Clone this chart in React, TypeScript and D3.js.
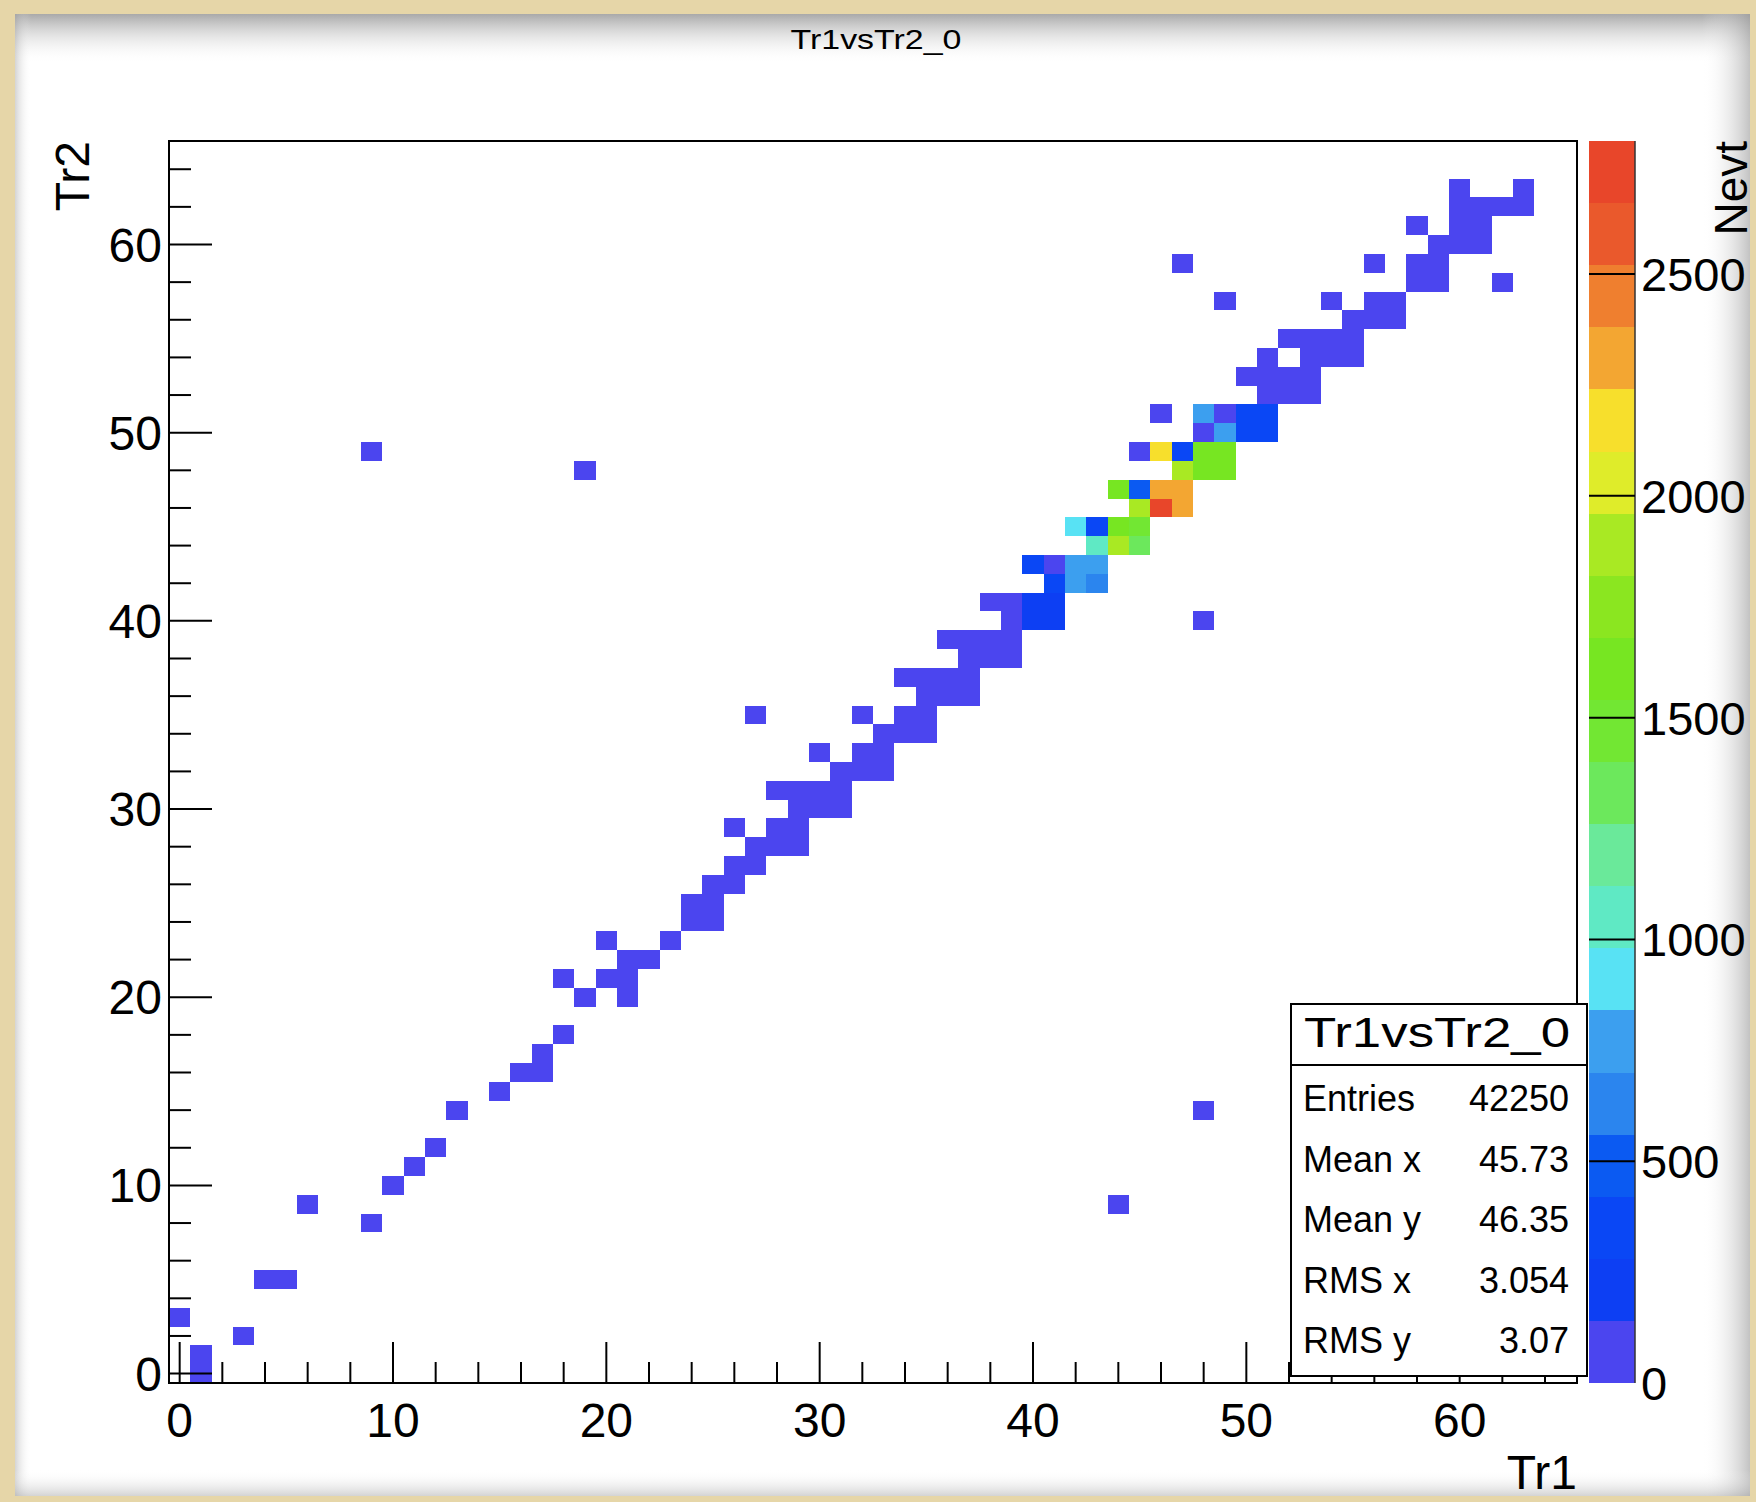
import React from "react";
import * as d3 from "d3";

const width = 1756;
const height = 1502;
const frame = { left: 169, right: 1577, top: 141, bottom: 1383 };
const paletteLeft = 1589;
const paletteRight = 1635;
const fontFamily = "'Liberation Sans', Arial, Helvetica, sans-serif";

// filled bins of Tr1vsTr2_0, one entry per cell (Tr1 bin, Tr2 bin, content)
const cellTr1 = [
  1, 1, 3, 0, 4, 5, 9, 6, 44, 10, 11, 12, 13, 48, 15, 16, 17, 17, 18, 19, 21, 18, 20, 21, 21, 22, 20, 23,
  24, 25, 24, 25, 25, 26, 26, 27, 27, 28, 29, 26, 28, 29, 29, 30, 31, 28, 29, 30, 31,
  31, 32, 33, 30, 32, 33, 33, 34, 35, 27, 32, 34, 35, 35, 36, 37, 34, 35, 36, 37,
  37, 38, 39, 36, 37, 38, 39, 39, 40, 41, 48, 38, 39, 40, 41, 41, 42, 43, 40, 41, 42, 43,
  43, 44, 45, 42, 43, 44, 45, 45, 46, 47, 44, 45, 46, 47, 19, 47, 48, 49,
  9, 45, 46, 47, 48, 49, 48, 49, 50, 51, 46, 48, 49, 50, 51, 51, 52, 53, 50, 51, 52, 53,
  51, 53, 54, 55, 52, 53, 54, 55, 55, 56, 57, 49, 54, 56, 57, 58, 59, 62, 47, 56, 58, 59,
  59, 60, 61, 58, 60, 61, 60, 61, 62, 63, 60, 63,
];
const cellTr2 = [
  0, 1, 2, 3, 5, 5, 8, 9, 9, 10, 11, 12, 14, 14, 15, 16, 16, 17, 18, 20, 20, 21, 21, 21, 22, 22, 23, 23,
  24, 24, 25, 25, 26, 26, 27, 27, 28, 28, 28, 29, 29, 29, 30, 30, 30, 31, 31, 31, 31,
  32, 32, 32, 33, 33, 33, 34, 34, 34, 35, 35, 35, 35, 36, 36, 36, 37, 37, 37, 37,
  38, 38, 38, 39, 39, 39, 39, 40, 40, 40, 40, 41, 41, 41, 41, 42, 42, 42, 43, 43, 43, 43,
  44, 44, 44, 45, 45, 45, 45, 46, 46, 46, 47, 47, 47, 47, 48, 48, 48, 48,
  49, 49, 49, 49, 49, 49, 50, 50, 50, 50, 51, 51, 51, 51, 51, 52, 52, 52, 53, 53, 53, 53,
  54, 54, 54, 54, 55, 55, 55, 55, 56, 56, 56, 57, 57, 57, 57, 58, 58, 58, 59, 59, 59, 59,
  60, 60, 60, 61, 61, 61, 62, 62, 62, 62, 63, 63,
];
const cellNevt = [
  3, 2, 1, 2, 2, 1, 2, 1, 1, 3, 2, 4, 2, 1, 3, 5, 4, 6, 5, 6, 7, 3, 8, 10, 9, 11, 4, 8,
  14, 9, 12, 18, 15, 21, 17, 24, 19, 27, 16, 2, 23, 30, 26, 33, 20, 12, 22, 35, 38,
  30, 42, 25, 2, 36, 48, 40, 55, 28, 1, 2, 47, 62, 50, 70, 38, 22, 45, 66, 80,
  72, 95, 58, 30, 60, 88, 110, 125, 240, 190, 1, 85, 130, 260, 220, 380, 730, 610, 300, 135, 770, 800,
  1050, 1890, 1330, 920, 400, 1620, 1500, 1850, 2790, 2350, 1560, 450, 2330, 2280, 1, 1870, 1600, 1550,
  1, 120, 2150, 350, 1640, 1590, 128, 760, 320, 290, 60, 740, 138, 330, 300, 110, 95, 80, 70, 105, 90, 75,
  55, 85, 70, 45, 40, 65, 78, 60, 50, 72, 48, 1, 8, 58, 62, 52, 40, 1, 1, 6, 45, 55,
  38, 50, 30, 7, 44, 36, 40, 42, 30, 25, 20, 18,
];

// 20 contour colours of the palette, lowest first
const paletteColors = [
  "#4b45ef", "#0d3ff3", "#0a47f5", "#0b5af2", "#2b85ee",
  "#3c9fef", "#58e2f4", "#5fe9c4", "#6ae99a", "#6ce85c",
  "#72e733", "#77e622", "#8be620", "#a9e923", "#dfec2a",
  "#f7df2c", "#f3a632", "#ef7f2f", "#ea592c", "#e8462a",
];
const axisLabels = [0, 10, 20, 30, 40, 50, 60];
const nevtLabels = [0, 500, 1000, 1500, 2000, 2500];
const statsNames = ["Entries", "Mean x", "Mean y", "RMS x", "RMS y"];
const statsValues = ["42250", "45.73", "46.35", "3.054", "3.07"];

const x = d3.scaleLinear().domain([-0.5, 65.5]).range([frame.left, frame.right]);
const y = d3.scaleLinear().domain([-0.5, 65.5]).range([frame.bottom, frame.top]);
const z = d3.scaleLinear().domain([0, 2800]).range([frame.bottom, frame.top]);
const color = d3.scaleQuantize<string>().domain([0, 2800]).range(paletteColors);
const minorTicks = d3.range(0, 65, 2).filter((d) => d % 10 !== 0);

const cells = cellNevt.map((v, i) => ({ i: cellTr1[i], j: cellTr2[i], v }));

const App = () => (
  <svg width={width} height={height} style={{ display: "block", position: "absolute", left: 0, top: 0 }} fontFamily={fontFamily}>
    <defs>
      <linearGradient id="shadeTop" x1="0" y1="0" x2="0" y2="1">
        <stop offset="0" stopColor="#8c8c8c" stopOpacity="0.75" />
        <stop offset="1" stopColor="#ffffff" stopOpacity="0" />
      </linearGradient>
      <linearGradient id="shadeRight" x1="0" y1="0" x2="1" y2="0">
        <stop offset="0" stopColor="#ffffff" stopOpacity="0" />
        <stop offset="1" stopColor="#9a9a9a" stopOpacity="0.6" />
      </linearGradient>
      <linearGradient id="shadeLeft" x1="0" y1="0" x2="1" y2="0">
        <stop offset="0" stopColor="#a0a0a0" stopOpacity="0.45" />
        <stop offset="1" stopColor="#ffffff" stopOpacity="0" />
      </linearGradient>
      <linearGradient id="shadeBottom" x1="0" y1="0" x2="0" y2="1">
        <stop offset="0" stopColor="#ffffff" stopOpacity="0" />
        <stop offset="1" stopColor="#a8a8a8" stopOpacity="0.5" />
      </linearGradient>
    </defs>
    <rect width={width} height={height} fill="#e6d6a8" />
    <rect x={15} y={14} width={1735} height={1482} fill="#ffffff" />
    <rect x={15} y={14} width={1735} height={50} fill="url(#shadeTop)" />
    <rect x={1702} y={14} width={48} height={1482} fill="url(#shadeRight)" />
    <rect x={15} y={14} width={16} height={1482} fill="url(#shadeLeft)" />
    <rect x={15} y={1470} width={1735} height={26} fill="url(#shadeBottom)" />

    <text x={876} y={49} textAnchor="middle" fontSize={28} textLength={171} lengthAdjust="spacingAndGlyphs">
      Tr1vsTr2_0
    </text>

    {cells.map((d, k) => (
      <rect
        key={k}
        x={x(d.i - 0.5)}
        y={y(d.j + 0.5)}
        width={x(d.i + 0.5) - x(d.i - 0.5)}
        height={y(d.j - 0.5) - y(d.j + 0.5)}
        fill={color(d.v)}
        shapeRendering="crispEdges"
      />
    ))}

    <g stroke="#000" strokeWidth={2}>
      {axisLabels.map((d) => (
        <line key={"xM" + d} x1={x(d)} x2={x(d)} y1={frame.bottom} y2={frame.bottom - 41} />
      ))}
      {minorTicks.map((d) => (
        <line key={"xm" + d} x1={x(d)} x2={x(d)} y1={frame.bottom} y2={frame.bottom - 21} />
      ))}
      {axisLabels.map((d) => (
        <line key={"yM" + d} y1={y(d)} y2={y(d)} x1={frame.left} x2={frame.left + 43} />
      ))}
      {minorTicks.map((d) => (
        <line key={"ym" + d} y1={y(d)} y2={y(d)} x1={frame.left} x2={frame.left + 22} />
      ))}
    </g>
    <rect
      x={frame.left}
      y={frame.top}
      width={frame.right - frame.left}
      height={frame.bottom - frame.top}
      fill="none"
      stroke="#000"
      strokeWidth={2}
    />

    <g fontSize={48} fill="#000">
      {axisLabels.map((d) => (
        <text key={"xl" + d} x={x(d)} y={1437} textAnchor="middle">
          {d}
        </text>
      ))}
      {axisLabels.map((d) => (
        <text key={"yl" + d} x={162} y={y(d) + 17} textAnchor="end">
          {d}
        </text>
      ))}
      <text x={1577} y={1489} textAnchor="end">Tr1</text>
      <text transform="translate(89,141) rotate(-90)" textAnchor="end">Tr2</text>
      <text transform="translate(1747,141) rotate(-90)" textAnchor="end" fontSize={46}>Nevt</text>
    </g>

    {paletteColors.map((c) => (
      <rect
        key={c}
        x={paletteLeft}
        y={z(color.invertExtent(c)[1])}
        width={paletteRight - paletteLeft}
        height={z(color.invertExtent(c)[0]) - z(color.invertExtent(c)[1])}
        fill={c}
        shapeRendering="crispEdges"
      />
    ))}
    <line x1={paletteRight} x2={paletteRight} y1={frame.top} y2={frame.bottom} stroke="#333" strokeWidth={1.5} />
    {nevtLabels.map((d) => (
      <g key={"z" + d}>
        {d > 0 && <line x1={paletteLeft} x2={paletteRight} y1={z(d)} y2={z(d)} stroke="#000" strokeWidth={2} />}
        <text x={1641} y={z(d) + 17} fontSize={47}>
          {d}
        </text>
      </g>
    ))}

    <rect x={1291} y={1004} width={296} height={372} fill="#fff" stroke="#000" strokeWidth={2} />
    <line x1={1291} x2={1587} y1={1065} y2={1065} stroke="#000" strokeWidth={2} />
    <text x={1437} y={1047} textAnchor="middle" fontSize={43} textLength={266} lengthAdjust="spacingAndGlyphs">
      Tr1vsTr2_0
    </text>
    {statsNames.map((s, k) => (
      <g key={s} fontSize={36}>
        <text x={1303} y={1111 + k * 60.5}>{s}</text>
        <text x={1569} y={1111 + k * 60.5} textAnchor="end">
          {statsValues[k]}
        </text>
      </g>
    ))}

    <rect x={0} y={0} width={width} height={14} fill="#e6d6a8" />
    <rect x={0} y={1496} width={width} height={6} fill="#e6d6a8" />
    <rect x={0} y={0} width={15} height={height} fill="#e6d6a8" />
    <rect x={1750} y={0} width={6} height={height} fill="#e6d6a8" />
  </svg>
);

export default App;
